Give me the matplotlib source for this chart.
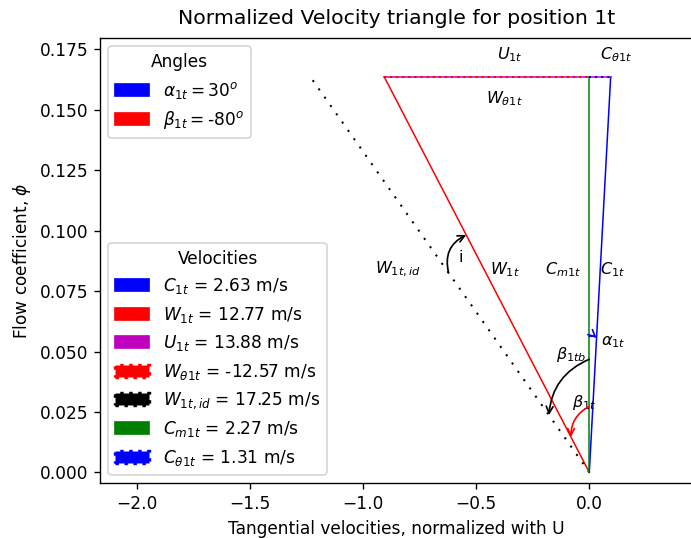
import numpy as np
import matplotlib
matplotlib.use("Agg")
import matplotlib.pyplot as plt
import matplotlib.patches as mpatches

# Data (m/s)
C1t = 2.63
W1t = 12.77
U1t = 13.88
Wth1t = -12.57
W1t_id = 17.25
Cm1t = 2.27
Cth1t = 1.31
alpha1t = 30
beta1t = -80

# normalized coordinates
phi = Cm1t / U1t
ct = Cth1t / U1t
wt = Wth1t / U1t
wid = -np.sqrt((W1t_id / U1t) ** 2 - phi ** 2)

DPI = 122
fig = plt.figure(figsize=(691 / DPI, 538 / DPI), dpi=DPI)
ax = fig.add_axes([100 / 691, 55 / 538, 593.4 / 691, 445 / 538])

ax.plot([0, ct], [0, phi], color='blue', lw=0.9)
ax.plot([0, wt], [0, phi], color='red', lw=0.9)
ax.plot([wt, ct], [phi, phi], color='m', lw=0.9)
ax.plot([wt, 0], [phi, phi], color='red', lw=1.2, ls=(0, (1, 2)))
ax.plot([0, wid], [0, phi], color='black', lw=1.2, ls=(0, (1, 4)))
ax.plot([0, 0], [0, phi], color='green', lw=0.9)
ax.plot([0, ct], [phi, phi], color='blue', lw=1.2, ls=(0, (1, 2)))

fs = 9.5
ax.text(-0.35, 0.1727, r'$U_{1t}$', ha='center', va='center', fontsize=fs)
ax.text(0.12, 0.1727, r'$C_{\theta 1t}$', ha='center', va='center', fontsize=fs)
ax.text(-0.373, 0.1545, r'$W_{\theta 1t}$', ha='center', va='center', fontsize=fs)
ax.text(-0.845, 0.084, r'$W_{1t,id}$', ha='center', va='center', fontsize=fs)
ax.text(-0.567, 0.0887, 'i', ha='center', va='center', fontsize=fs)
ax.text(-0.373, 0.084, r'$W_{1t}$', ha='center', va='center', fontsize=fs)
ax.text(-0.117, 0.084, r'$C_{m1t}$', ha='center', va='center', fontsize=fs)
ax.text(0.105, 0.084, r'$C_{1t}$', ha='center', va='center', fontsize=fs)
ax.text(0.105, 0.0539, r'$\alpha_{1t}$', ha='center', va='center', fontsize=fs)
ax.text(-0.081, 0.0486, r'$\beta_{1tb}$', ha='center', va='center', fontsize=fs)
ax.text(-0.023, 0.0291, r'$\beta_{1t}$', ha='center', va='center', fontsize=fs)

def arc(p0, p1, rad, color):
    ax.annotate('', xy=p1, xytext=p0,
                arrowprops=dict(arrowstyle='->', color=color, lw=1,
                                connectionstyle='arc3,rad=%f' % rad,
                                shrinkA=0, shrinkB=0))

arc((0, 0.0273), (wt * 0.0146 / phi, 0.0146), 0.3, 'red')
arc((0, 0.0468), (wid * 0.0237 / phi, 0.0237), 0.3, 'black')
arc((wid * 0.0825 / phi, 0.0825), (wt * 0.0982 / phi, 0.0982), -0.4, 'black')
arc((0, 0.0562), (ct * 0.0556 / phi, 0.0556), -0.3, 'blue')

ax.set_xlim(-2.162, 0.46)
ax.set_ylim(-0.0044, 0.1797)
ax.set_title('Normalized Velocity triangle for position 1t', pad=8)
ax.set_xlabel('Tangential velocities, normalized with U')
ax.set_ylabel(r'Flow coefficient, $\phi$')

ang_handles = [mpatches.Patch(color='blue', label=r'$\alpha_{1t} = %d^o$' % alpha1t),
               mpatches.Patch(color='red', label=r'$\beta_{1t} = $%d$^o$' % beta1t)]
leg1 = ax.legend(handles=ang_handles, title='Angles', loc='upper left')
ax.add_artist(leg1)

vel_handles = [
    mpatches.Patch(color='blue', label=r'$C_{1t}$ = %.2f m/s' % C1t),
    mpatches.Patch(color='red', label=r'$W_{1t}$ = %.2f m/s' % W1t),
    mpatches.Patch(color='m', label=r'$U_{1t}$ = %.2f m/s' % U1t),
    mpatches.Patch(color='red', ls=':', lw=2, label=r'$W_{\theta 1t}$ = %.2f m/s' % Wth1t),
    mpatches.Patch(color='black', ls=':', lw=2, label=r'$W_{1t,id}$ = %.2f m/s' % W1t_id),
    mpatches.Patch(color='green', label=r'$C_{m1t}$ = %.2f m/s' % Cm1t),
    mpatches.Patch(color='blue', ls=':', lw=2, label=r'$C_{\theta 1t}$ = %.2f m/s' % Cth1t),
]
ax.legend(handles=vel_handles, title='Velocities', loc='lower left')

fig.savefig('out.png', dpi=DPI)
